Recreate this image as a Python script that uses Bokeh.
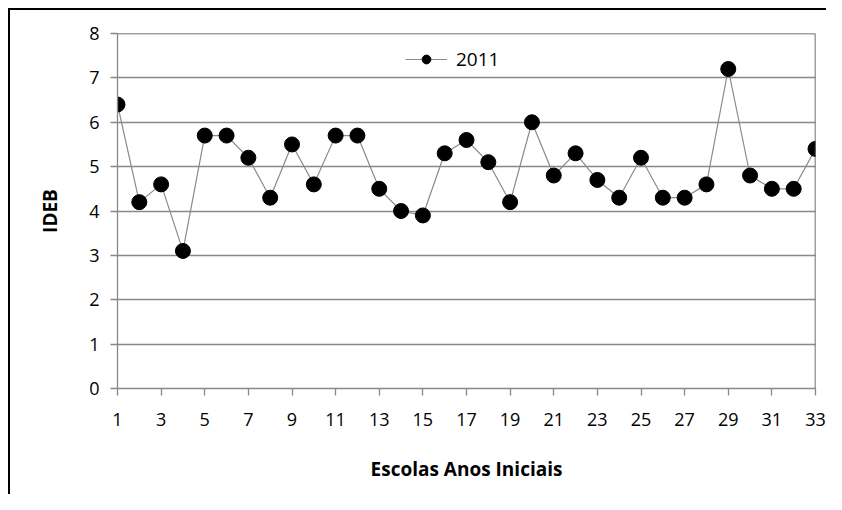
from bokeh.plotting import figure
from bokeh.models import FixedTicker, Range1d, Span, Legend, LegendItem
from bokeh.embed import file_html
from bokeh.resources import INLINE

escolas = list(range(1, 34))
ideb_2011 = [6.4, 4.2, 4.6, 3.1, 5.7, 5.7, 5.2, 4.3, 5.5, 4.6,
             5.7, 5.7, 4.5, 4.0, 3.9, 5.3, 5.6, 5.1, 4.2, 6.0,
             4.8, 5.3, 4.7, 4.3, 5.2, 4.3, 4.3, 4.6, 7.2, 4.8,
             4.5, 4.5, 5.4]
x_ticks = list(range(1, 34, 2))
y_ticks = list(range(0, 9))
series_name = "2011"

FONT = "Open Sans"

p = figure(width=826, height=494, output_backend="svg", toolbar_location=None,
           x_range=Range1d(1, 33), y_range=Range1d(0, 8),
           min_border_left=117, min_border_right=11,
           min_border_top=33, min_border_bottom=106)
p.outline_line_color = None
p.background_fill_color = "white"
p.border_fill_color = None
# outer chart border (left and top edges visible)
p.styles = {
    "background": ("linear-gradient(#000, #000) 8px 8px / 2px 100% no-repeat, "
                   "linear-gradient(#000, #000) 8px 8px / 100% 2px no-repeat, #fff"),
}

ln = p.line(escolas, ideb_2011, line_color="#8a8a8a", line_width=1.2)
sc = p.scatter(escolas, ideb_2011, size=15, fill_color="black", line_color="black")

legend = Legend(items=[LegendItem(label=series_name, renderers=[ln, sc])],
                location=(288, 316), border_line_color=None,
                background_fill_alpha=0, glyph_width=42, glyph_height=22,
                label_height=22, padding=0, margin=0, spacing=0,
                label_text_font=FONT, label_text_font_size="19px",
                label_text_color="#000000", label_standoff=9)
p.add_layout(legend, "center")

# top and right plot borders
p.add_layout(Span(location=8, dimension="width", line_color="#404040", line_width=1.5))
p.add_layout(Span(location=33, dimension="height", line_color="#404040", line_width=1.5))

p.xgrid.grid_line_color = None
p.ygrid.ticker = FixedTicker(ticks=y_ticks)
p.ygrid.grid_line_color = "#888888"
p.ygrid.grid_line_width = 1.3

p.xaxis.ticker = FixedTicker(ticks=x_ticks)
p.yaxis.ticker = FixedTicker(ticks=y_ticks)
for ax in (p.xaxis, p.yaxis):
    ax.axis_line_color = "#888888"
    ax.axis_line_width = 1.3
    ax.major_tick_line_color = "#888888"
    ax.major_tick_line_width = 1.3
    ax.major_tick_in = 0
    ax.major_tick_out = 7
    ax.minor_tick_line_color = None
    ax.major_label_text_font = FONT
    ax.major_label_text_font_size = "18px"
    ax.major_label_text_color = "#000000"
    ax.axis_label_text_font = FONT
    ax.axis_label_text_font_style = "bold"
    ax.axis_label_text_font_size = "19px"
    ax.axis_label_text_color = "#000000"

p.xaxis.axis_label = "Escolas Anos Iniciais"
p.xaxis.major_label_standoff = 17
p.xaxis.axis_label_standoff = 27
p.yaxis.axis_label = "IDEB"
p.yaxis.major_label_standoff = 11
p.yaxis.axis_label_standoff = 23

open("out.html", "w").write(file_html(p, INLINE))
